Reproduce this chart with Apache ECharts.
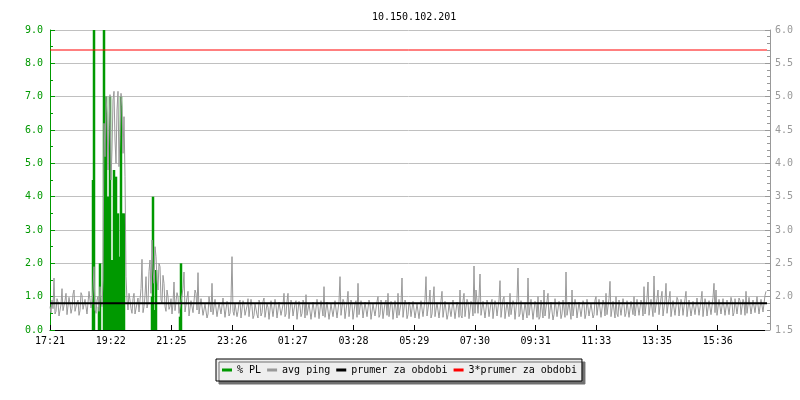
<!DOCTYPE html>
<html>
<head>
<meta charset="utf-8">
<script src="https://cdn.jsdelivr.net/npm/echarts/dist/echarts.min.js"></script>
<style>
html,body{margin:0;padding:0;background:#fff;}
#chart{width:800px;height:400px;}
</style>
</head>
<body>
<div id="chart"></div>
<script>
const titleText = '10.150.102.201';
const xTickLabels = ['17:21','19:22','21:25','23:26','01:27','03:28','05:29','07:30','09:31','11:33','13:35','15:36'];
const tickStep = 121.4;      // minutes between labelled ticks
const spanMinutes = 1434;    // width of the time window in minutes
const sampleMinutes = 2;     // minutes between avg ping samples

// avg ping (right axis)
const pingValues = [
  1.85,1.76,1.95,1.82,2.28,1.74,1.78,1.97,1.92,1.71,1.74,1.88,2.12,1.79,1.80,1.94,2.05,1.73,1.76,1.99,
  1.90,1.75,1.82,2.04,2.10,1.78,1.75,1.91,1.95,1.72,1.79,2.06,2.02,1.81,1.84,1.96,1.93,1.74,1.77,2.08,2.05,1.83,
  1.90,2.10,2.45,1.80,1.75,1.95,2.00,1.78,2.15,1.92,1.85,2.25,
  4.60,4.10,5.00,4.75,3.90,4.55,5.03,3.75,4.20,4.95,5.08,4.35,4.00,4.80,5.08,3.95,4.40,5.05,4.85,4.15,4.70,3.80,2.30,1.95,1.80,2.05,
  1.95,1.82,1.75,1.97,2.05,1.74,1.72,1.90,1.98,1.77,1.80,2.12,2.56,1.76,1.85,2.02,2.30,1.83,1.90,2.38,
  2.55,2.05,2.85,2.40,2.20,2.75,2.60,2.25,2.10,2.50,2.45,1.95,1.90,2.32,2.20,1.85,1.78,2.10,2.00,1.81,
  1.85,1.97,1.74,1.90,2.22,1.79,1.80,2.06,2.00,1.75,1.72,1.93,1.95,2.12,2.37,1.77,1.78,1.99,2.08,1.71,
  1.73,1.94,1.96,1.76,1.75,2.10,2.05,1.80,2.36,1.74,1.76,1.97,1.98,1.72,1.70,1.89,1.92,1.68,1.74,2.00,
  2.02,1.77,2.20,1.73,1.72,1.96,1.95,1.70,1.69,1.91,1.90,1.74,1.73,1.98,2.00,1.69,1.70,1.93,1.88,1.71,
  1.75,1.95,2.60,1.78,1.72,1.90,1.92,1.70,
  1.78,1.91,1.95,1.68,1.70,1.94,1.88,1.72,1.74,1.86,1.97,1.70,1.69,1.96,1.85,1.67,1.72,1.90,1.93,1.73,
  1.68,1.95,1.90,1.71,1.76,1.93,1.98,1.69,1.70,1.89,1.84,1.66,1.67,1.94,1.92,1.70,1.73,1.96,1.87,1.68,
  1.69,1.92,1.95,1.72,1.71,1.88,2.05,1.70,1.74,1.93,2.05,1.67,1.68,1.95,1.89,1.71,1.72,1.90,1.94,1.66,
  1.67,1.93,1.86,1.70,1.75,1.95,1.91,1.68,2.03,1.72,1.69,1.90,1.88,1.66,1.66,1.92,1.93,1.69,1.71,1.96,
  1.85,1.67,1.68,1.94,1.96,1.71,2.15,1.69,1.70,1.92,1.90,1.66,1.67,1.89,1.87,1.70,1.73,1.94,1.95,1.68,
  1.69,1.93,2.30,1.72,1.74,1.96,1.92,1.67,1.68,1.91,2.08,1.70,1.71,1.95,1.89,1.66,1.66,1.90,1.94,1.69,
  2.20,1.73,1.70,1.94,1.86,1.68,1.67,1.92,1.93,1.70,1.72,1.95,1.88,1.66,1.66,1.89,1.91,1.71,1.69,1.93,
  2.00,1.69,1.73,1.95,1.87,1.67,1.68,1.91,1.95,1.72,2.05,1.70,1.70,1.93,1.89,1.66,1.66,1.94,1.92,1.68,
  2.05,1.72,1.71,1.90,2.28,1.69,1.68,1.95,1.90,1.67,1.73,1.92,1.86,1.70,1.67,1.93,1.94,1.68,1.70,1.89,
  1.88,1.67,1.66,1.94,1.93,1.70,1.72,1.96,2.30,1.71,1.69,1.92,2.10,1.68,1.74,1.95,2.15,1.70,1.68,1.91,
  1.90,1.68,1.71,1.94,2.08,1.69,1.67,1.93,1.92,1.66,1.73,1.90,1.87,1.70,1.69,1.95,1.95,1.67,1.70,1.92,
  1.86,1.69,2.10,1.72,1.68,1.94,2.05,1.70,1.72,1.96,1.91,1.67,1.67,1.93,1.89,1.71,2.46,1.75,2.10,1.94,
  1.75,1.98,2.34,1.72,1.70,1.93,1.94,1.68,1.68,1.95,1.88,1.70,1.73,1.91,1.96,1.67,1.69,1.94,1.87,1.71,
  1.72,1.95,2.24,1.69,1.70,1.96,2.00,1.67,1.67,1.92,1.92,1.70,2.05,1.73,1.71,1.94,1.89,1.66,1.68,1.97,
  2.43,1.70,1.74,1.94,1.93,1.65,1.66,1.91,1.90,1.68,2.28,1.72,1.69,1.96,1.95,1.66,1.67,1.93,1.88,1.69,
  2.00,1.66,1.70,1.95,1.93,1.68,2.10,1.71,1.72,1.94,2.05,1.67,1.68,1.92,1.90,1.65,1.73,1.97,1.96,1.70,
  1.69,1.93,1.86,1.67,1.74,1.95,1.94,1.69,2.37,1.72,1.70,1.92,1.91,1.66,2.10,1.71,1.72,1.96,1.88,1.68,
  1.68,1.92,1.95,1.70,1.71,1.94,1.89,1.67,1.74,1.96,1.97,1.71,1.69,1.90,1.87,1.68,1.73,1.95,2.00,1.72,
  1.70,1.96,1.93,1.69,1.72,1.95,1.90,1.71,2.05,1.73,1.74,1.97,2.23,1.70,1.71,1.93,1.94,1.68,2.00,1.74,
  1.70,1.95,1.92,1.72,1.73,1.97,1.88,1.70,1.75,1.94,1.96,1.69,1.71,1.93,1.90,1.73,2.00,1.71,1.72,1.96,
  1.94,1.72,1.70,1.95,1.89,1.71,2.15,1.74,1.74,1.98,2.22,1.72,1.71,1.96,1.93,1.70,2.31,1.76,1.73,1.97,
  2.10,1.73,1.72,1.98,2.08,1.71,1.70,1.95,2.20,1.75,1.74,1.97,2.08,1.70,1.71,1.94,1.92,1.72,1.75,1.99,
  1.95,1.71,1.70,1.96,1.90,1.72,1.73,1.97,2.08,1.70,1.72,1.95,1.94,1.71,1.69,1.93,1.91,1.73,1.74,1.98,
  1.96,1.72,1.71,1.95,2.08,1.70,1.73,1.97,1.90,1.71,1.70,1.94,1.95,1.73,1.74,1.99,2.20,1.76,2.10,1.72,
  1.72,1.96,1.93,1.74,1.75,1.97,2.00,1.72,1.71,1.95,1.96,1.73,1.73,1.99,1.92,1.71,1.76,1.97,1.98,1.74,
  1.72,1.98,1.94,1.73,1.75,1.96,1.91,1.72,2.08,1.75,1.73,1.99,1.97,1.74,1.74,1.95,1.93,1.76,1.76,2.00,
  1.99,1.74,1.73,1.96,1.95,1.77,1.78,2.02,2.08
];

// % PL (left axis), only non-zero samples
const plMinutes = [86, 88, 98, 100, 108, 110, 112, 116, 120, 124, 128, 132, 136, 140, 142, 144, 148, 204, 206, 210, 212, 260, 262];
const plValues  = [4.5, 9.0, 0.7, 2.0, 9.0, 2.2, 7.0, 4.0, 7.0, 2.1, 4.8, 4.6, 3.5, 2.2, 7.0, 3.5, 3.5, 1.0, 4.0, 0.6, 1.8, 0.4, 2.0];

const prumer = 1.9;          // average over period (right axis)
const triPrumer = 5.7;       // 3 * average

const seriesNames = ['% PL', 'avg ping', 'prumer za obdobi', '3*prumer za obdobi'];
const GREEN = '#009900', GREY = '#999999';
const FONT = 'DejaVu Sans Mono';

const chart = echarts.init(document.getElementById('chart'), null, {renderer: 'canvas'});
chart.setOption({
  animation: false,
  backgroundColor: '#ffffff',
  title: {
    text: titleText, left: 367, top: 7,
    textStyle: {fontFamily: FONT, fontSize: 10, fontWeight: 'normal', color: '#000'}
  },
  legend: {
    left: 216, top: 359,
    padding: [6, 5, 6, 6],
    itemGap: 6, itemWidth: 10, itemHeight: 3,
    backgroundColor: '#eeeeee', borderColor: '#000', borderWidth: 1,
    shadowColor: '#707070', shadowBlur: 0, shadowOffsetX: 3, shadowOffsetY: 3,
    selectedMode: false,
    textStyle: {fontFamily: FONT, fontSize: 10, color: '#000'},
    data: seriesNames.map(n => ({name: n, icon: 'rect'}))
  },
  grid: {left: 50, right: 33, top: 30, bottom: 70, containLabel: false},
  xAxis: {
    type: 'value', min: 0, max: spanMinutes, interval: tickStep,
    axisLine: {lineStyle: {color: '#000', width: 1}},
    axisTick: {inside: true, length: 5, lineStyle: {color: '#000'}},
    axisLabel: {
      margin: 6, color: '#000', fontFamily: FONT, fontSize: 10, showMaxLabel: false,
      formatter: v => { const k = Math.round(v / tickStep); return xTickLabels[k] || ''; }
    },
    splitLine: {show: false}
  },
  yAxis: [{
    type: 'value', min: 0, max: 9, interval: 1, position: 'left',
    axisLine: {show: true, lineStyle: {color: GREEN}},
    axisTick: {show: true, inside: true, length: 5, lineStyle: {color: GREEN}},
    minorTick: {show: true, splitNumber: 2, length: 3, lineStyle: {color: GREEN}},
    axisLabel: {margin: 7, color: GREEN, fontFamily: FONT, fontSize: 10, formatter: v => v.toFixed(1)},
    splitLine: {show: true, lineStyle: {color: '#c0c0c0', width: 1}}
  }, {
    type: 'value', min: 1.5, max: 6.0, interval: 0.5, position: 'right', offset: 3,
    axisLine: {show: true, lineStyle: {color: GREY}},
    axisTick: {show: true, inside: true, length: 5, lineStyle: {color: GREY}},
    minorTick: {show: true, splitNumber: 5, length: 3, lineStyle: {color: GREY}},
    axisLabel: {margin: 5, color: GREY, fontFamily: FONT, fontSize: 10, formatter: v => v.toFixed(1)},
    splitLine: {show: false}
  }],
  series: [{
    name: seriesNames[0], type: 'bar', yAxisIndex: 0, color: GREEN,
    barWidth: 2.5, silent: true,
    itemStyle: {color: GREEN},
    data: plMinutes.map((m, i) => [m, plValues[i]])
  }, {
    name: seriesNames[1], type: 'line', yAxisIndex: 1, color: GREY,
    showSymbol: false, symbol: 'none', silent: true,
    lineStyle: {color: GREY, width: 1},
    data: pingValues.map((v, i) => [i * sampleMinutes, v])
  }, {
    name: seriesNames[2], type: 'line', yAxisIndex: 1, color: '#000',
    showSymbol: false, symbol: 'none', silent: true,
    lineStyle: {color: '#000', width: 2},
    data: [[0, prumer], [spanMinutes, prumer]]
  }, {
    name: seriesNames[3], type: 'line', yAxisIndex: 1, color: '#ff0000',
    showSymbol: false, symbol: 'none', silent: true,
    lineStyle: {color: '#ff0000', width: 1},
    data: [[0, triPrumer], [spanMinutes, triPrumer]]
  }]
});
</script>
</body>
</html>
